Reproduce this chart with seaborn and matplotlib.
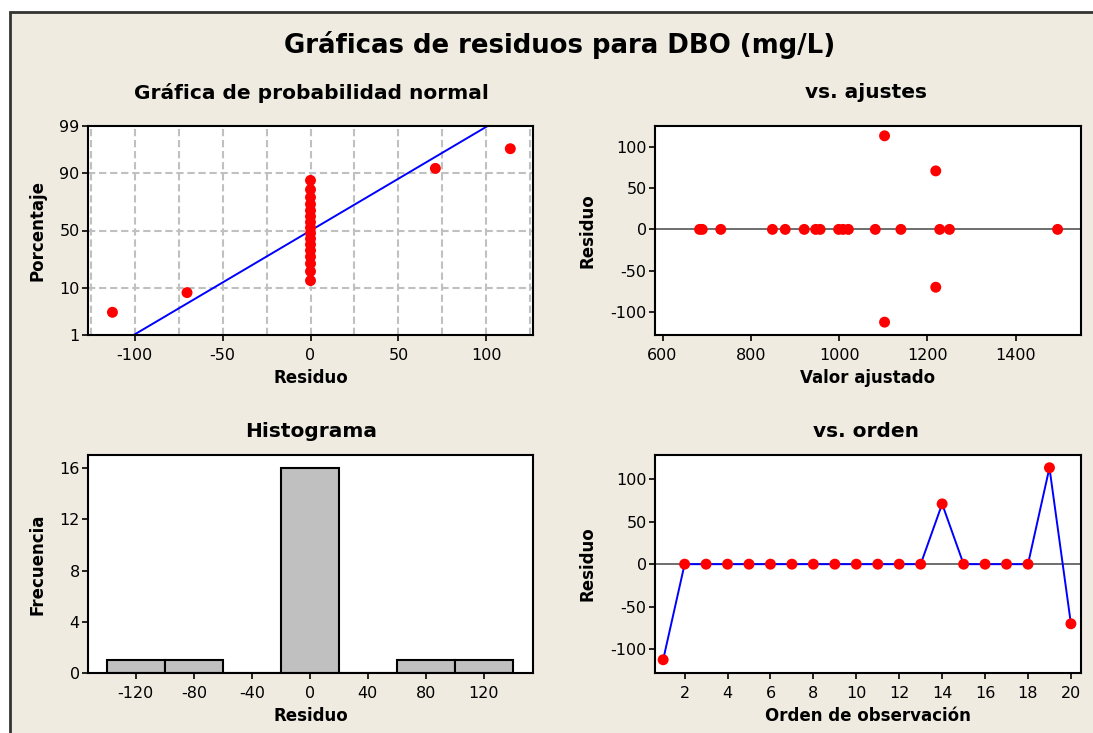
import matplotlib
matplotlib.use("Agg")
import matplotlib.pyplot as plt
from matplotlib.patches import Rectangle
import numpy as np
import pandas as pd
import seaborn as sns
from statistics import NormalDist

sns.set_style("ticks")
plt.rcParams['font.family'] = ['DejaVu Sans']
plt.rcParams['axes.unicode_minus'] = False
plt.rcParams['text.color'] = 'black'
plt.rcParams['axes.labelcolor'] = 'black'
plt.rcParams['xtick.color'] = 'black'
plt.rcParams['ytick.color'] = 'black'

# Datos
observacion = list(range(1, 21))
residuo = [-112.6, 0, 0, 0, 0, 0, 0, 0, 0, 0, 0, 0, 0, 71.0, 0, 0, 0, 0, 113.6, -70.2]
ajustado = [1103, 684, 690, 732, 849, 878, 921, 947, 957, 999, 1009, 1021, 1082,
            1219, 1140, 1228, 1250, 1495, 1103, 1219]
bordes_hist = [-140, -100, -60, -20, 20, 60, 100, 140]
percentiles = [1, 10, 50, 90, 99]

df = pd.DataFrame({'Orden': observacion, 'Residuo': residuo, 'Ajuste': ajustado})

# Gráfica de probabilidad normal (rangos de mediana, como Minitab)
nd = NormalDist()
n = len(df)
df_ord = df.sort_values('Residuo', kind='stable').reset_index(drop=True)
df_ord['z'] = [nd.inv_cdf((i + 1 - 0.3) / (n + 0.4)) for i in range(n)]
media = df['Residuo'].mean()
desv = df['Residuo'].std()
z_lim = [nd.inv_cdf(0.01), nd.inv_cdf(0.99)]
linea = pd.DataFrame({'x': [media + desv * z for z in z_lim], 'z': z_lim})

W, H = 1093, 733
fig = plt.figure(figsize=(W / 100, H / 100), dpi=100, facecolor='white')
fig.patches.append(Rectangle((10 / W, -0.05), 1.1, 1.05 - 12 / H, transform=fig.transFigure,
                             facecolor='#EFEBE1', edgecolor='#333333', lw=2, zorder=-10))


def caja(l, t, r, b):
    ax = fig.add_axes([l / W, 1 - b / H, (r - l) / W, (b - t) / H])
    ax.set_facecolor('white')
    for s in ax.spines.values():
        s.set_color('black')
        s.set_linewidth(1.5)
    ax.tick_params(direction='out', length=4, width=1.2, colors='black', labelsize=11.5, pad=2)
    ax.tick_params(axis='x', pad=5)
    return ax


ax1 = caja(88, 126, 533, 335)
ax2 = caja(655, 126, 1081, 335)
ax3 = caja(88, 455, 533, 673)
ax4 = caja(655, 455, 1081, 673)

lab = dict(fontsize=12, fontweight='bold')
gris = dict(color='#C0C0C0', lw=1.5, ls=(0, (3.5, 1.8)), zorder=0)
punto = dict(color='red', s=62, edgecolor='none', zorder=3)

# 1) probabilidad normal
for p in [10, 50, 90]:
    ax1.axhline(nd.inv_cdf(p / 100), **gris)
for xg in range(-125, 126, 25):
    ax1.axvline(xg, **gris)
sns.lineplot(data=linea, x='x', y='z', ax=ax1, color='blue', lw=1.4)
sns.scatterplot(data=df_ord, x='Residuo', y='z', ax=ax1, **punto)
ax1.set_xlim(-126.5, 126.5)
ax1.set_ylim(z_lim)
ax1.set_xticks([-100, -50, 0, 50, 100])
ax1.set_yticks([nd.inv_cdf(p / 100) for p in percentiles], [str(p) for p in percentiles])
ax1.set_xlabel('Residuo', labelpad=5, **lab)
ax1.set_ylabel('Porcentaje', labelpad=9, **lab)

# 2) vs. ajustes
ax2.axhline(0, color='#555555', lw=1.2, zorder=1)
sns.scatterplot(data=df, x='Ajuste', y='Residuo', ax=ax2, **punto)
ax2.set_xlim(583, 1548)
ax2.set_ylim(-128.2, 125.5)
ax2.set_xticks([600, 800, 1000, 1200, 1400])
ax2.set_yticks([-100, -50, 0, 50, 100])
ax2.set_xlabel('Valor ajustado', labelpad=5, **lab)
ax2.set_ylabel('Residuo', labelpad=10, **lab)

# 3) histograma
sns.histplot(data=df, x='Residuo', bins=bordes_hist, ax=ax3, color='#C0C0C0',
             edgecolor='black', linewidth=1.5, alpha=1)
ax3.set_xlim(-153, 154)
ax3.set_ylim(0, 17.04)
ax3.set_xticks([-120, -80, -40, 0, 40, 80, 120])
ax3.set_yticks([0, 4, 8, 12, 16])
ax3.set_xlabel('Residuo', labelpad=5, **lab)
ax3.set_ylabel('Frecuencia', labelpad=9, **lab)

# 4) vs. orden
ax4.axhline(0, color='#555555', lw=1.2, zorder=1)
sns.lineplot(data=df, x='Orden', y='Residuo', ax=ax4, color='blue', lw=1.4, zorder=2)
sns.scatterplot(data=df, x='Orden', y='Residuo', ax=ax4, **punto)
ax4.set_xlim(0.62, 20.47)
ax4.set_ylim(-128.2, 128.6)
ax4.set_xticks(list(range(2, 21, 2)))
ax4.set_yticks([-100, -50, 0, 50, 100])
ax4.set_xlabel('Orden de observación', labelpad=5, **lab)
ax4.set_ylabel('Residuo', labelpad=10, **lab)

# Títulos
fig.text(560 / W, 1 - 45 / H, 'Gráficas de residuos para DBO (mg/L)', ha='center', va='center',
         fontsize=18.7, fontweight='bold')
for x, y, t in [(311, 93, 'Gráfica de probabilidad normal'), (866, 93, 'vs. ajustes'),
                (311, 432, 'Histograma'), (866, 432, 'vs. orden')]:
    fig.text(x / W, 1 - y / H, t, ha='center', va='center', fontsize=14.5, fontweight='bold')

fig.savefig('out.png', dpi=100, facecolor=fig.get_facecolor())
